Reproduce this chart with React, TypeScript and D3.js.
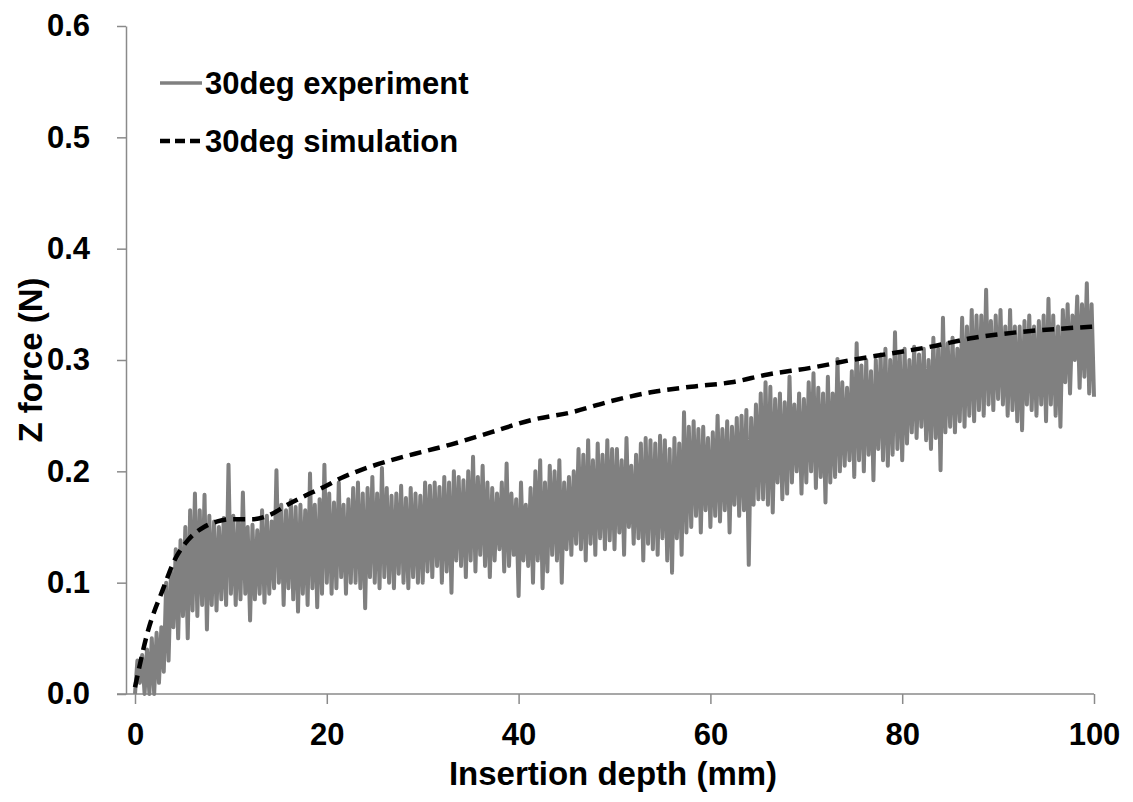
import * as d3 from 'd3';
import React, { useRef, useEffect } from 'react';

// x axis ticks (mm) and y axis ticks (N)
const depthTicks = [0, 20, 40, 60, 80, 100];
const forceTicks = [0, 0.1, 0.2, 0.3, 0.4, 0.5, 0.6];

// experiment: one reading every 0.25 mm (4 per mm row)
const expStep = 0.25;
const expForce = [
  0.0, 0.03, 0.01, 0.035,
  0.0, 0.04, 0.0, 0.05,
  0.0, 0.055, 0.01, 0.06,
  0.02, 0.1, 0.03, 0.11,
  0.06, 0.13, 0.05, 0.138,
  0.07, 0.15, 0.05, 0.165,
  0.075, 0.18, 0.07, 0.165,
  0.08, 0.179, 0.058, 0.16,
  0.08, 0.155, 0.075, 0.15,
  0.085, 0.158, 0.08, 0.206,
  0.09, 0.16, 0.08, 0.155,
  0.085, 0.181, 0.09, 0.15,
  0.066, 0.152, 0.085, 0.147,
  0.09, 0.165, 0.082, 0.16,
  0.09, 0.155, 0.095, 0.201,
  0.1, 0.17, 0.08, 0.165,
  0.095, 0.174, 0.085, 0.168,
  0.074, 0.17, 0.09, 0.165,
  0.08, 0.198, 0.095, 0.17,
  0.078, 0.175, 0.09, 0.206,
  0.1, 0.18, 0.09, 0.172,
  0.095, 0.19, 0.105, 0.17,
  0.09, 0.175, 0.1, 0.185,
  0.1, 0.19, 0.095, 0.18,
  0.077, 0.185, 0.105, 0.195,
  0.1, 0.18, 0.095, 0.203,
  0.105, 0.185, 0.1, 0.178,
  0.095, 0.18, 0.108, 0.187,
  0.1, 0.176, 0.095, 0.185,
  0.105, 0.18, 0.1, 0.178,
  0.1, 0.19, 0.11, 0.187,
  0.105, 0.19, 0.115, 0.186,
  0.1, 0.195, 0.11, 0.19,
  0.091, 0.2, 0.12, 0.195,
  0.115, 0.192, 0.105, 0.2,
  0.12, 0.213, 0.11, 0.195,
  0.125, 0.205, 0.115, 0.19,
  0.105, 0.185, 0.12, 0.18,
  0.13, 0.19, 0.11, 0.207,
  0.115, 0.18, 0.125, 0.175,
  0.088, 0.19, 0.12, 0.17,
  0.115, 0.185, 0.1, 0.2,
  0.12, 0.21, 0.095, 0.19,
  0.11, 0.205, 0.125, 0.2,
  0.12, 0.21, 0.1, 0.19,
  0.13, 0.195, 0.125, 0.2,
  0.135, 0.22, 0.13, 0.215,
  0.12, 0.228, 0.135, 0.21,
  0.125, 0.225, 0.14, 0.215,
  0.13, 0.228, 0.138, 0.22,
  0.13, 0.22, 0.145, 0.21,
  0.125, 0.23, 0.15, 0.205,
  0.135, 0.215, 0.14, 0.225,
  0.12, 0.23, 0.135, 0.228,
  0.13, 0.225, 0.125, 0.232,
  0.14, 0.228, 0.12, 0.22,
  0.109, 0.23, 0.14, 0.225,
  0.125, 0.253, 0.145, 0.24,
  0.15, 0.245, 0.16, 0.238,
  0.145, 0.24, 0.165, 0.23,
  0.15, 0.235, 0.16, 0.25,
  0.155, 0.238, 0.165, 0.245,
  0.145, 0.24, 0.17, 0.248,
  0.16, 0.25, 0.165, 0.255,
  0.116, 0.248, 0.17, 0.26,
  0.175, 0.27, 0.175, 0.28,
  0.17, 0.276, 0.163, 0.265,
  0.19, 0.27, 0.175, 0.262,
  0.18, 0.285, 0.19, 0.26,
  0.2, 0.27, 0.18, 0.265,
  0.19, 0.28, 0.2, 0.288,
  0.185, 0.275, 0.195, 0.27,
  0.172, 0.285, 0.19, 0.27,
  0.195, 0.301, 0.2, 0.28,
  0.205, 0.275, 0.21, 0.29,
  0.195, 0.315, 0.21, 0.295,
  0.2, 0.3, 0.215, 0.29,
  0.192, 0.3, 0.22, 0.305,
  0.21, 0.31, 0.205, 0.3,
  0.215, 0.325, 0.22, 0.305,
  0.21, 0.31, 0.225, 0.3,
  0.235, 0.312, 0.23, 0.305,
  0.24, 0.31, 0.228, 0.3,
  0.22, 0.32, 0.23, 0.31,
  0.201, 0.338, 0.235, 0.315,
  0.24, 0.32, 0.235, 0.31,
  0.245, 0.338, 0.24, 0.33,
  0.25, 0.345, 0.245, 0.34,
  0.255, 0.34, 0.25, 0.363,
  0.26, 0.335, 0.255, 0.34,
  0.265, 0.345, 0.26, 0.33,
  0.25, 0.345, 0.255, 0.33,
  0.245, 0.33, 0.237, 0.335,
  0.26, 0.34, 0.255, 0.33,
  0.25, 0.335, 0.26, 0.34,
  0.245, 0.355, 0.26, 0.34,
  0.25, 0.33, 0.24, 0.345,
  0.28, 0.35, 0.27, 0.34,
  0.3, 0.357, 0.275, 0.35,
  0.285, 0.369, 0.27, 0.35,
  0.267,
];

// simulation curve
const simDepth = [0, 1.3, 3, 4, 5.5, 7.2, 8.6, 10, 12.4, 14.1, 15.9, 17.5, 19.7, 21.5, 23.2, 26.7, 30.2, 32.9, 37.1, 41.3, 45.5, 49.6, 53.8, 58, 62.2, 66, 70.5, 74.7, 78.9, 83, 87.5, 92.1, 96.3, 100];
const simForce = [0.006, 0.055, 0.096, 0.118, 0.138, 0.15, 0.155, 0.157, 0.157, 0.161, 0.17, 0.177, 0.186, 0.194, 0.2, 0.21, 0.218, 0.224, 0.235, 0.246, 0.253, 0.263, 0.271, 0.276, 0.28, 0.287, 0.293, 0.3, 0.306, 0.312, 0.32, 0.325, 0.328, 0.33];

const seriesNames = ['30deg experiment', '30deg simulation'];

const FONT = '"Liberation Sans", Arial, sans-serif';
const AXIS = '#8a8a8a';
const GRAY = '#808080';

export default function App() {
  const ref = useRef(null);

  useEffect(() => {
    const svg = d3.select(ref.current);
    svg.selectAll('*').remove();

    const x = d3.scaleLinear().domain([0, 100]).range([135, 1094]);
    const y = d3.scaleLinear().domain([0, 0.6]).range([694, 26]);
    const axisX = 126;

    // axes
    const yAxis = d3.axisLeft(y)
      .tickValues(forceTicks)
      .tickSize(9)
      .tickSizeOuter(0)
      .tickPadding(27)
      .tickFormat(d3.format('.1f'));
    const gy = svg.append('g')
      .attr('transform', `translate(${axisX},0)`)
      .call(yAxis);
    gy.select('.domain').attr('stroke', AXIS).attr('stroke-width', 1.5);
    gy.selectAll('.tick line').attr('stroke', AXIS).attr('stroke-width', 1.5);
    gy.selectAll('.tick text')
      .attr('fill', '#000')
      .style('font-family', FONT)
      .style('font-weight', 'bold')
      .style('font-size', '31px');

    const xAxis = d3.axisBottom(x)
      .tickValues(depthTicks)
      .tickSize(10)
      .tickSizeOuter(0)
      .tickPadding(19)
      .tickFormat(d3.format('d'));
    const gx = svg.append('g')
      .attr('transform', `translate(0,${y(0)})`)
      .call(xAxis);
    gx.select('.domain').remove();
    gx.append('line')
      .attr('x1', axisX - 9).attr('x2', x(100))
      .attr('y1', 0).attr('y2', 0)
      .attr('stroke', AXIS).attr('stroke-width', 1.5);
    gx.selectAll('.tick line').attr('stroke', AXIS).attr('stroke-width', 1.5);
    gx.selectAll('.tick text')
      .attr('fill', '#000')
      .style('font-family', FONT)
      .style('font-weight', 'bold')
      .style('font-size', '31px');

    // axis titles
    svg.append('text')
      .attr('x', 613).attr('y', 785)
      .attr('text-anchor', 'middle')
      .style('font-family', FONT).style('font-weight', 'bold').style('font-size', '33px')
      .text('Insertion depth (mm)');
    svg.append('text')
      .attr('transform', `translate(42,${y(0.3)}) rotate(-90)`)
      .attr('text-anchor', 'middle')
      .style('font-family', FONT).style('font-weight', 'bold').style('font-size', '33px')
      .text('Z force (N)');

    // experiment
    const expLine = d3.line()
      .x((d, i) => x(i * expStep))
      .y(d => y(d));
    svg.append('path')
      .datum(expForce)
      .attr('d', expLine)
      .attr('fill', 'none')
      .attr('stroke', GRAY)
      .attr('stroke-width', 4)
      .attr('stroke-linejoin', 'round');

    // simulation
    const simLine = d3.line()
      .x(d => x(d[0]))
      .y(d => y(d[1]))
      .curve(d3.curveMonotoneX);
    svg.append('path')
      .datum(simDepth.map((d, i) => [d, simForce[i]]))
      .attr('d', simLine)
      .attr('fill', 'none')
      .attr('stroke', '#000')
      .attr('stroke-width', 4.5)
      .attr('stroke-dasharray', '12,7');

    // legend
    const legend = svg.append('g');
    const rows = [
      { y: 83, stroke: GRAY, width: 3.5, dash: null },
      { y: 141, stroke: '#000', width: 4.5, dash: '10,5' },
    ];
    rows.forEach((r, i) => {
      legend.append('line')
        .attr('x1', 160).attr('x2', 202)
        .attr('y1', r.y).attr('y2', r.y)
        .attr('stroke', r.stroke)
        .attr('stroke-width', r.width)
        .attr('stroke-dasharray', r.dash);
      legend.append('text')
        .attr('x', 205).attr('y', r.y + 11)
        .style('font-family', FONT).style('font-weight', 'bold').style('font-size', '31px')
        .text(seriesNames[i]);
    });
  }, []);

  return (
    <svg ref={ref} width={1133} height={802}
      style={{ position: 'absolute', left: 0, top: 0, background: '#fff' }} />
  );
}
